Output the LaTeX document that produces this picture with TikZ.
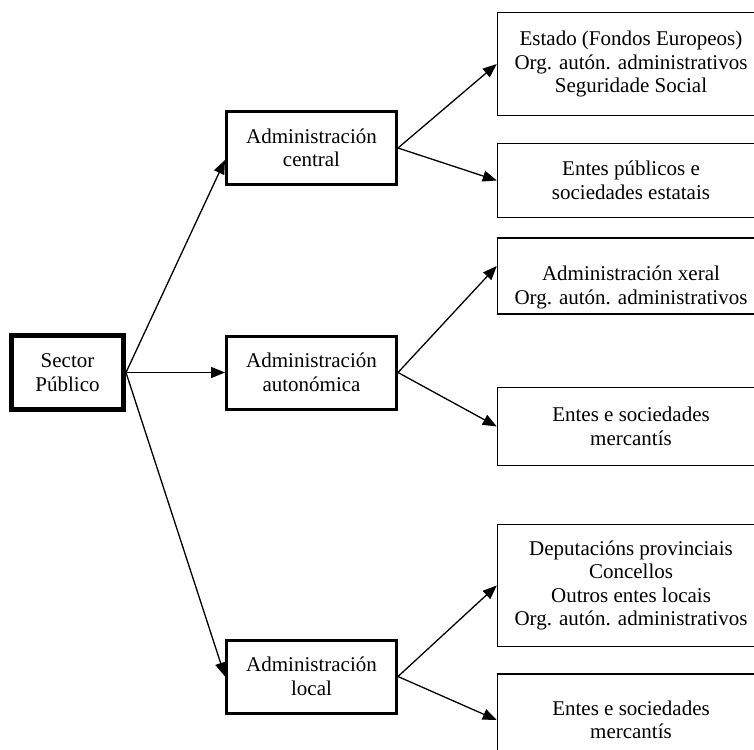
\documentclass[tikz,border=0pt]{standalone}
\usepackage{fontspec}
\setmainfont{Liberation Serif}
\usetikzlibrary{arrows.meta}

\tikzset{
  box/.style={draw, line width=1.5pt, align=center, inner sep=0pt,
    minimum width=267pt, font=\fontsize{21}{23.5}\selectfont},
  adminbox/.style={box, line width=3pt, minimum width=170pt, minimum height=73pt},
  rootbox/.style={box, line width=5pt, minimum width=112pt, minimum height=74pt},
  link/.style={line width=1.3pt, -{Triangle[length=14pt,width=11pt]}}
}

\begin{document}
\begin{tikzpicture}[x=1pt,y=-1pt]
	\useasboundingbox (0,0) rectangle (754,749);
	\node[rootbox] (sp) at (67.5,372.5) {Sector\\Público};
	\node[adminbox] (ac) at (311.5,148) {Administración\\central};
	\node[adminbox] (aa) at (311.5,372.5) {Administración\\autonómica};
	\node[adminbox] (al) at (311.5,676.5) {Administración\\local};
	\node[box, minimum height=103pt] (estado) at (631,64) {Estado (Fondos Europeos)\\Org. autón. administrativos\\Seguridade Social};
	\node[box, minimum height=74pt] (entesest) at (631,180.5) {Entes públicos e\\sociedades estatais};
	\node[box, minimum height=76pt] (xeral) at (631,276) {\rule{0pt}{38pt}Administración xeral\\Org. autón. administrativos};
	\node[box, minimum height=78pt] (entesaut) at (631,426.5) {Entes e sociedades\\mercantís};
	\node[box, minimum height=122pt] (deput) at (631,585.5) {Deputacións provinciais\\Concellos\\Outros entes locais\\Org. autón. administrativos};
	\node[box, minimum height=92pt] (enteslocal) at (631,720) {Entes e sociedades\\mercantís};
	\draw[link] (sp.east) -- ([yshift=-12pt]ac.west);
	\draw[link] (sp.east) -- (aa.west);
	\draw[link] (sp.east) -- (al.west);
	\draw[link] (ac.east) -- (estado.west);
	\draw[link] (ac.east) -- (entesest.west);
	\draw[link] (aa.east) -- ([yshift=10pt]xeral.west);
	\draw[link] (aa.east) -- (entesaut.west);
	\draw[link] (al.east) -- (deput.west);
	\draw[link] (al.east) -- (enteslocal.west);
\end{tikzpicture}
\end{document}
